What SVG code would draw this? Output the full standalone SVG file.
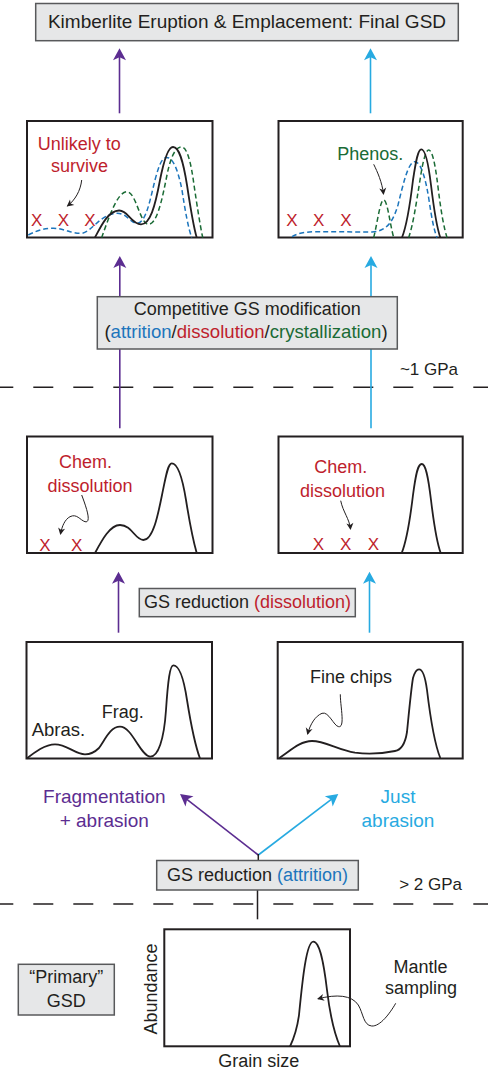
<svg xmlns="http://www.w3.org/2000/svg" width="488" height="1075" viewBox="0 0 488 1075">
<style>
text{font-family:"Liberation Sans",Arial,sans-serif;font-size:18px;fill:#231f20}
.c{text-anchor:middle}
.gbox{fill:#e6e7e8;stroke:#58595b;stroke-width:1.5}
.plot{fill:#fff;stroke:#231f20;stroke-width:2}
.curve{fill:none;stroke:#231f20;stroke-width:1.8}
.dg{fill:none;stroke:#1a6b35;stroke-width:1.5;stroke-dasharray:5 3}
.db{fill:none;stroke:#1c75bc;stroke-width:1.5;stroke-dasharray:5 3}
.ann{fill:none;stroke:#231f20;stroke-width:1;marker-end:url(#sm)}
.x{fill:#be1e2d;font-size:17px;text-anchor:middle}
.red{fill:#be1e2d}
.grn{fill:#1a6b35}
.blu{fill:#1c75bc}
.pur{fill:#5c2d91;font-size:19px}
.cy{fill:#27aae1;font-size:19px}
.ap{stroke:#5c2d91;stroke-width:1.6;fill:none;marker-end:url(#mp)}
.ab{stroke:#27aae1;stroke-width:1.6;fill:none;marker-end:url(#mb)}
.blk{stroke:#231f20;stroke-width:1.5;fill:none}
.dash{stroke:#231f20;stroke-width:1.6;stroke-dasharray:20 20}
.gpa{font-size:17px;text-anchor:end}
</style>
<defs>
<marker id="mp" viewBox="-12 -7 16 14" refX="0" refY="0" markerWidth="16" markerHeight="14" markerUnits="userSpaceOnUse" orient="auto">
<path d="M3,0 L-9,-6.5 L-6,0 L-9,6.5 Z" fill="#5c2d91"/>
</marker>
<marker id="mb" viewBox="-12 -7 16 14" refX="0" refY="0" markerWidth="16" markerHeight="14" markerUnits="userSpaceOnUse" orient="auto">
<path d="M3,0 L-9,-6.5 L-6,0 L-9,6.5 Z" fill="#27aae1"/>
</marker>
<marker id="sm" viewBox="-8 -5 10 10" refX="0" refY="0" markerWidth="10" markerHeight="10" markerUnits="userSpaceOnUse" orient="auto">
<path d="M1,0 L-6,-3.5 L-4,0 L-6,3.5 Z" fill="#231f20"/>
</marker>
</defs>

<g id="pressure-lines">
<line class="dash" x1="-6.7" y1="387.3" x2="488" y2="387.3"/>
<text class="gpa" x="458" y="375">~1 GPa</text>
<line class="dash" x1="-6.7" y1="904" x2="488" y2="904"/>
<text class="gpa" x="462" y="890">&gt; 2 GPa</text>
</g>

<g id="connectors">
<line class="ap" x1="119.5" y1="113.3" x2="119.5" y2="51.3"/>
<line class="ab" x1="370.5" y1="113.3" x2="370.5" y2="51.3"/>
<line class="ap" x1="119.8" y1="428.3" x2="119.8" y2="259"/>
<line class="ab" x1="371" y1="428.3" x2="371" y2="259"/>
<line class="ap" x1="118.5" y1="632.7" x2="118.5" y2="574.7"/>
<line class="ab" x1="369.5" y1="632.7" x2="369.5" y2="574.7"/>
<line class="ap" x1="258.3" y1="855" x2="182.4" y2="795.9"/>
<line class="ab" x1="258.3" y1="855" x2="335.9" y2="795.9"/>
<line class="blk" x1="258.3" y1="854" x2="258.3" y2="861"/>
<line class="blk" x1="257.5" y1="890" x2="257.5" y2="919.3"/>
</g>

<g id="title">
<rect class="gbox" x="35.7" y="3.5" width="422.6" height="37.2"/>
<text class="c" x="247" y="28" style="font-size:19px">Kimberlite Eruption &amp; Emplacement: Final GSD</text>
</g>

<g id="final-left">
<rect class="plot" x="27" y="121" width="185.5" height="116.5"/>
<path class="db" d="M28.3,235 C38,230 45,228 53.3,228.3 C65,228.5 72,234 81.7,233.3 C92,232 100,214 116.7,213.3 C127,213 130,223 136.7,223.3 C146,223.5 150,200 155,180 C159,165 162,157.5 166.7,157.5 C173,157.5 178,170 182,190 C185,210 188,227 191.7,237.5"/>
<path class="dg" d="M101.7,237.5 C108,220 117,192 126.7,191.7 C136,191.5 140,224 148.3,224.3 C157,224.5 162,200 167,175 C171,155 176,147 181.5,147 C187,147 191,162 194,185 C197,205 200,225 202.7,237.5"/>
<path class="curve" d="M95,237.5 C101,226 108,211 119,210.5 C128,210 131,224 141,224.3 C150,224.5 155,207 160,180 C164,160 168,147 173,147 C179,147 183,160 187,185 C190,205 193,225 196.7,237.5"/>
<text class="c red" x="79.3" y="150">Unlikely to</text>
<text class="c red" x="79.5" y="171.7">survive</text>
<path class="ann" d="M81.7,180 C80.5,191 75,200 67.5,206"/>
<text class="x" x="36.7" y="225.7">X</text>
<text class="x" x="63.3" y="225.7">X</text>
<text class="x" x="90" y="225.7">X</text>
</g>

<g id="final-right">
<rect class="plot" x="278.5" y="121" width="184.2" height="116.5"/>
<path class="db" d="M292,236.7 C298,233 305,232 315,231.7 L372,232 C385,231 392,225 398,205 C403,185 408,162 414.7,161.7 C421,161.5 426,180 429,200 C432,220 434,230 437,237.5"/>
<path class="dg" d="M373.7,237.5 C377,225 380,200 383.7,200 C387.5,200 390,225 393.7,237.5"/>
<path class="dg" d="M408.7,237.5 C413,225 416,205 420,180 C423,160 426,150 428.7,150 C432,150 435,162 438,187 C441,212 444,228 447,237.5"/>
<path class="curve" d="M402,237.5 C407,225 410,205 413,180 C416,160 418,149.3 421.3,149.3 C425,149.3 428,160 431,185 C434,210 437,228 440.3,237.5"/>
<text class="c grn" x="370.3" y="160">Phenos.</text>
<path class="ann" d="M373.7,164.3 C377.5,172 382,182 383.5,194"/>
<text class="x" x="292" y="225.7">X</text>
<text class="x" x="318.7" y="225.7">X</text>
<text class="x" x="346" y="225.7">X</text>
</g>

<g id="competitive">
<rect class="gbox" x="97.3" y="296.7" width="300" height="52.3"/>
<text class="c" x="247.3" y="315">Competitive GS modification</text>
<text class="c" x="246" y="338.3" style="font-size:18.6px">(<tspan class="blu">attrition</tspan>/<tspan class="red">dissolution</tspan>/<tspan class="grn">crystallization</tspan>)</text>
</g>

<g id="chem-left">
<rect class="plot" x="27" y="436.5" width="185.5" height="116.5"/>
<path class="curve" d="M95,553 C102,540 110,525 120,525 C132,525 135,540 143.3,540 C153,540 158,515 162,495 C166,475 168,463.3 171.7,463.3 C177,463.3 182,475 186,500 C190,525 193,540 196.7,553"/>
<text class="c red" x="85.5" y="468.3">Chem.</text>
<text class="c red" x="90" y="491.7">dissolution</text>
<path class="ann" d="M81.7,495 C86.7,508.3 91.7,523.3 85,521.7 C80,520 76.7,513.3 70,516.7 C65,519.3 62,526 60.5,534"/>
<text class="x" x="45" y="550.7">X</text>
<text class="x" x="76.7" y="550.7">X</text>
</g>

<g id="chem-right">
<rect class="plot" x="278.5" y="436.5" width="184.2" height="116.5"/>
<path class="curve" d="M401.7,553 C407,540 410,520 413,495 C416,472 418,464 421.7,464 C425.5,464 428,475 431,500 C434,525 437,543 440.7,553"/>
<text class="c red" x="340.8" y="473.3">Chem.</text>
<text class="c red" x="342.5" y="496.7">dissolution</text>
<path class="ann" d="M340.7,500.7 C343,512 349.5,519 350.5,529"/>
<text class="x" x="318.3" y="550">X</text>
<text class="x" x="345.7" y="550">X</text>
<text class="x" x="373.3" y="550">X</text>
</g>

<g id="gs-dissolution">
<rect class="gbox" x="139.3" y="588.5" width="216" height="28.2"/>
<text class="c" x="247.5" y="608.3">GS reduction <tspan class="red">(dissolution)</tspan></text>
</g>

<g id="frag-abras">
<rect class="plot" x="26.5" y="642" width="185.5" height="116.5"/>
<path class="curve" d="M26.7,758.5 C35,752 45,744.3 55,744.3 C67,744.3 75,754.3 85,754.3 C92,754.3 96,751 99,748 C105,740 110,726.7 120,726.7 C132,726.7 140,755 150,756.7 C158,757 164,740 166,710 C168,680 170,665.3 173.3,665.3 C180,665.3 184,680 187,700 C191,725 195,745 200,758.5"/>
<text x="31.7" y="736" style="font-size:18.5px">Abras.</text>
<text x="101.7" y="717.7">Frag.</text>
</g>

<g id="just-abras">
<rect class="plot" x="277.7" y="642" width="185" height="116.5"/>
<path class="curve" d="M279.3,758 C290,751 300,741 312,741 C325,741 338,750 355,752.7 C370,754.5 385,753 395,751 C401,750 405,745 407,732 C409,712 411,690 413,678 C415,671 417,669.3 419,669.3 C422,669.3 425,675 427,690 C430,715 435,745 440.3,758"/>
<text x="310" y="683">Fine chips</text>
<path class="ann" d="M340.3,694.3 C340.3,706 345.3,727.7 338.7,726.7 C333.7,726 328.7,711 322,713.3 C315.3,716 310.3,724 307.6,734"/>
</g>

<g id="branch-labels">
<text class="c pur" x="104.3" y="803.3">Fragmentation</text>
<text class="c pur" x="104.3" y="826.7">+ abrasion</text>
<text class="c cy" x="398" y="803.3">Just</text>
<text class="c cy" x="398" y="826.7">abrasion</text>
</g>

<g id="gs-attrition">
<rect class="gbox" x="156.7" y="860.5" width="201.6" height="29.5"/>
<text class="c" x="257.5" y="881">GS reduction <tspan class="blu">(attrition)</tspan></text>
</g>

<g id="primary-label">
<rect class="gbox" x="18.3" y="964.3" width="96" height="50.7"/>
<text class="c" x="66.3" y="983.3">“Primary”</text>
<text class="c" x="66.3" y="1006.7">GSD</text>
</g>

<g id="primary-plot">
<rect class="plot" x="164.3" y="929.3" width="185.7" height="117"/>
<path class="curve" d="M290,1046.5 C294,1038 297,1030 299,1015 C302,985 306,941.7 313.3,941.7 C320,941.7 324,965 327,990 C330,1015 335,1035 340,1046.5"/>
<text class="c" transform="translate(157,989) rotate(-90)">Abundance</text>
<text class="c" x="258.8" y="1066.7">Grain size</text>
<text class="c" x="420.5" y="973">Mantle</text>
<text class="c" x="421" y="993.5">sampling</text>
<path class="ann" d="M395.7,1003.3 C390,1013.3 380,1026.7 371.7,1026 C363.3,1025.3 363.3,1013.3 358.3,1005 C351.7,995 336.7,994 318,998.8"/>
</g>
</svg>
